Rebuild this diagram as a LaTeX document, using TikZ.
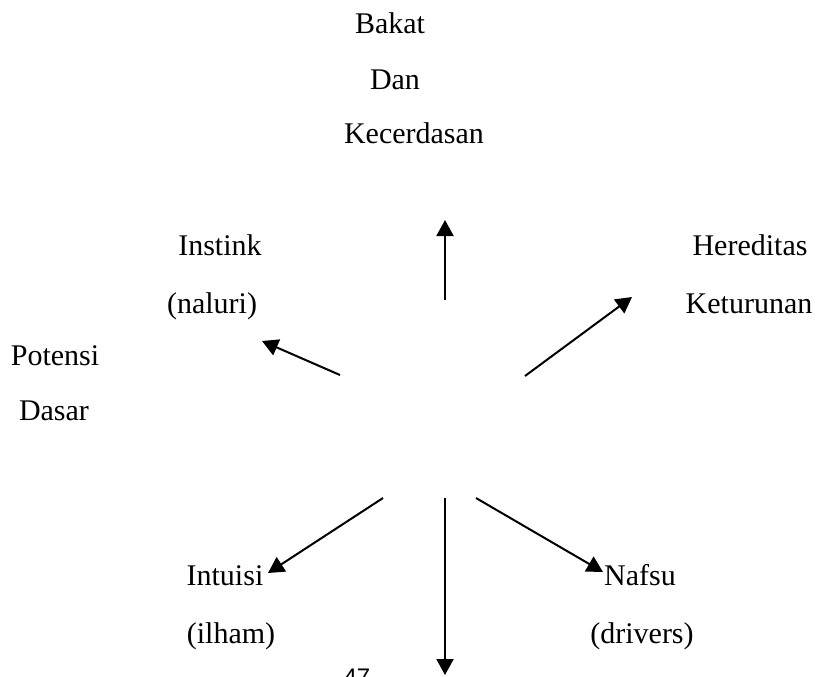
\documentclass[tikz,border=0pt]{standalone}
\usepackage{fontspec}
\setmainfont{Liberation Serif}
\newfontfamily\pgnumfont{Liberation Sans}
\usetikzlibrary{arrows.meta}
\begin{document}
\begin{tikzpicture}[x=0.5pt,y=-0.5pt,
  lbl/.style={anchor=base,inner sep=0pt,font=\fontsize{15}{18}\selectfont},
  arr/.style={line width=1pt,-{Triangle[length=8pt,width=8.5pt]}}]
\useasboundingbox (0,0) rectangle (820,676);
\clip (0,0) rectangle (820,676);
% labels
\node[lbl] (bakat) at (390,33) {Bakat};
\node[lbl] (dan) at (395,89) {Dan};
\node[lbl] (kecer) at (414,143) {Kecerdasan};
\node[lbl] (instink) at (220,255) {Instink};
\node[lbl] (naluri) at (212,313) {(naluri)};
\node[lbl] (hered) at (750,255) {Hereditas};
\node[lbl] (ketur) at (749,313) {Keturunan};
\node[lbl] (potensi) at (55,365) {Potensi};
\node[lbl] (dasar) at (54,420) {Dasar};
\node[lbl] (intuisi) at (225,585) {Intuisi};
\node[lbl] (ilham) at (231,643) {(ilham)};
\node[lbl] (nafsu) at (640,585) {Nafsu};
\node[lbl] (drivers) at (642,643) {(drivers)};
\node[anchor=base,inner sep=0pt,font=\pgnumfont\fontsize{12}{14}\selectfont] (pg) at (357,685) {47};
% arrow end points
\coordinate (upS) at (445,300);
\coordinate (upT) at (445,220);
\coordinate (inS) at (340,375);
\coordinate (inT) at (262,341);
\coordinate (heS) at (525,376);
\coordinate (heT) at (632,297);
\coordinate (itS) at (383,498);
\coordinate (itT) at (268,573);
\coordinate (dnS) at (445,498);
\coordinate (dnT) at (445,675);
\coordinate (nfS) at (476,498);
\coordinate (nfT) at (603,572);
% arrows
\draw[arr] (upS) -- (upT);
\draw[arr] (inS) -- (inT);
\draw[arr] (heS) -- (heT);
\draw[arr] (itS) -- (itT);
\draw[arr] (dnS) -- (dnT);
\draw[arr] (nfS) -- (nfT);
\end{tikzpicture}
\end{document}
